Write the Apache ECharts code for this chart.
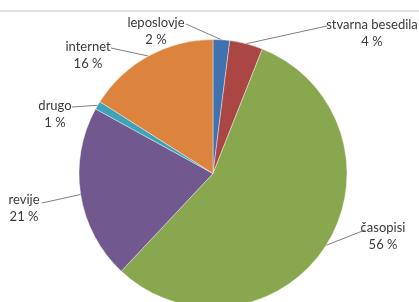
<!DOCTYPE html>
<html>
<head>
<meta charset="utf-8">
<script src="https://cdn.jsdelivr.net/npm/echarts@6/dist/echarts.min.js"></script>
<style>
  html, body { margin: 0; padding: 0; background: #fff; }
  #chart { width: 419px; height: 302px; }
</style>
</head>
<body>
<div id="chart"></div>
<script>
// values
var categories = ['leposlovje', 'stvarna besedila', 'časopisi', 'revije', 'drugo', 'internet'];
var shares = [2, 4, 56, 21, 1, 16];
var colors = ['#4172b0', '#aa4745', '#89a74f', '#71588f', '#3ea3b9', '#dc843e'];

// where each label block sits and where its leader line ends
var labelCenter = [[156, 31], [372, 33], [383, 236], [24, 208], [55, 114], [88, 55]];
var lineEnd = [[186, 24], [327, 26], [365, 230], [42, 203], [72, 107], [111, 48]];

var myChart = echarts.init(document.getElementById('chart'));

var data = categories.map(function (name, i) {
    return { name: name, value: shares[i], itemStyle: { color: colors[i] } };
});

myChart.setOption({
    animation: false,
    graphic: [{
        type: 'line',
        shape: { x1: 0, y1: 11, x2: 419, y2: 11 },
        style: { stroke: '#d9d9d9', lineWidth: 1.5 }
    }],
    series: [{
        type: 'pie',
        center: [213, 173.5],
        radius: 134,
        startAngle: 90,
        clockwise: true,
        data: data,
        itemStyle: { borderColor: '#fff', borderWidth: 0.4 },
        label: {
            show: true,
            formatter: function (p) { return p.name + '\n' + p.value + ' %'; },
            fontFamily: 'Lato',
            fontSize: 13,
            lineHeight: 17,
            color: '#3a3a3a',
            align: 'center',
            overflow: 'none',
            width: 130
        },
        labelLine: {
            show: true,
            lineStyle: { color: '#7f7f7f', width: 1 }
        },
        labelLayout: function (params) {
            var i = params.dataIndex;
            var pts = params.labelLinePoints;
            var start = pts ? pts[0] : lineEnd[i];
            return {
                x: labelCenter[i][0],
                y: labelCenter[i][1],
                align: 'center',
                verticalAlign: 'middle',
                labelLinePoints: [start, lineEnd[i], lineEnd[i]]
            };
        }
    }]
});
</script>
</body>
</html>
